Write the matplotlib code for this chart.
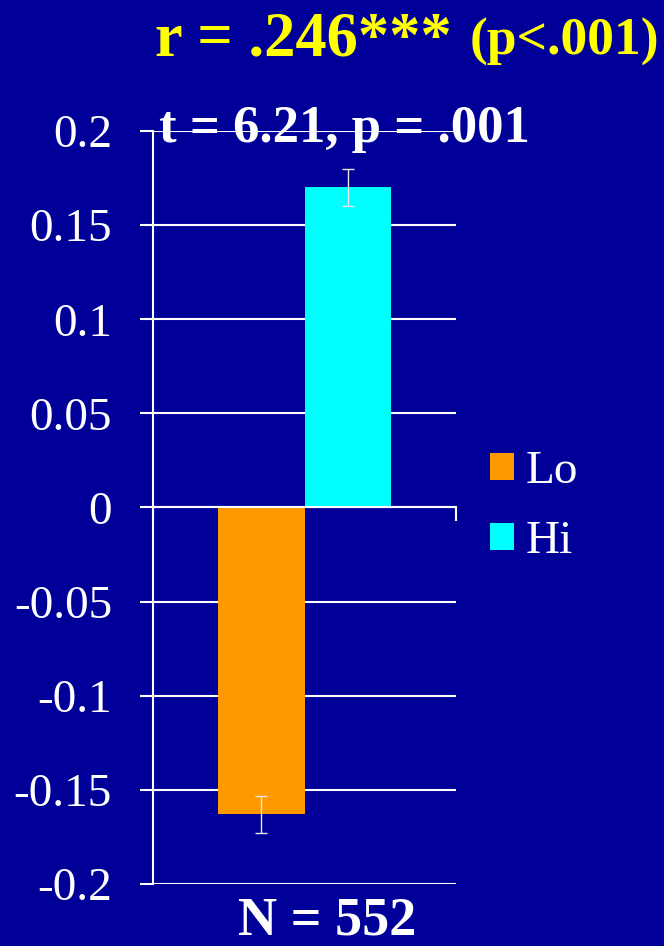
import matplotlib
matplotlib.use("Agg")
import matplotlib.pyplot as plt

# group means and standard errors
groups = ["Lo", "Hi"]
means = [-0.163, 0.170]
errors = [0.010, 0.010]
colors = ["#FF9900", "#00FFFF"]

yticks = [0.2, 0.15, 0.1, 0.05, 0, -0.05, -0.1, -0.15, -0.2]
ytick_labels = ["0.2", "0.15", "0.1", "0.05", "0", "-0.05", "-0.1", "-0.15", "-0.2"]

bg = "#000099"
plt.rcParams["font.family"] = ["Liberation Serif", "DejaVu Serif"]

fig = plt.figure(figsize=(6.64, 9.46), dpi=100, facecolor=bg)
ax = fig.add_axes([153 / 664, 62 / 946, 303 / 664, 753 / 946])
ax.set_facecolor(bg)

width = 0.574
xpos = [-width / 2, width / 2]
bars = ax.bar(xpos, means, width=width, color=colors, label=groups, zorder=3)
ax.errorbar(xpos, means, yerr=errors, fmt="none", ecolor="#e8e8e8",
            elinewidth=1.0, capsize=4.5, capthick=1.0, zorder=4)

ax.set_xlim(-1, 1)
ax.set_ylim(-0.2, 0.2)
ax.set_yticks(yticks)
ax.set_yticklabels(ytick_labels)
ax.yaxis.grid(True, color="white", linewidth=1.5, zorder=1)
ax.set_axisbelow(True)
ax.tick_params(axis="y", direction="out", length=9.5, width=1.5, color="white",
               labelcolor="white", labelsize=34, pad=20)

# category axis sits on zero, ticks only at the ends
ax.spines["bottom"].set_position(("data", 0))
ax.spines["bottom"].set_color("white")
ax.spines["bottom"].set_linewidth(1.5)
ax.spines["bottom"].set_zorder(5)
ax.set_xticks([-1, 1])
ax.set_xticklabels([])
ax.tick_params(axis="x", direction="out", length=10, width=1.5, color="white")
ax.spines["left"].set_color("white")
ax.spines["left"].set_linewidth(1.5)
ax.spines["top"].set_visible(False)
ax.spines["right"].set_visible(False)

fig.text(155 / 664, 1 - 55 / 946, "r = .246***", color="#FFFF00", fontsize=45,
         fontweight="bold", va="baseline", ha="left")
fig.text(470 / 664, 1 - 55 / 946, "(p<.001)", color="#FFFF00", fontsize=38.5,
         fontweight="bold", va="baseline", ha="left")
fig.text(159 / 664, 1 - 142 / 946, "t = 6.21, p = .001", color="white", fontsize=38,
         fontweight="bold", va="baseline", ha="left", zorder=10)
fig.text(327 / 664, 1 - 934 / 946, "N = 552", color="white", fontsize=39,
         fontweight="bold", va="baseline", ha="center")

leg = fig.legend(handles=bars, labels=groups, loc="center left",
                 bbox_to_anchor=(490 / 664, 1 - 507 / 946), frameon=False,
                 fontsize=34, handlelength=0.5, handleheight=0.5,
                 handletextpad=0.25, labelspacing=0.58, borderpad=0,
                 borderaxespad=0)
for t in leg.get_texts():
    t.set_color("white")

fig.savefig("out.png", dpi=100, facecolor=bg)
